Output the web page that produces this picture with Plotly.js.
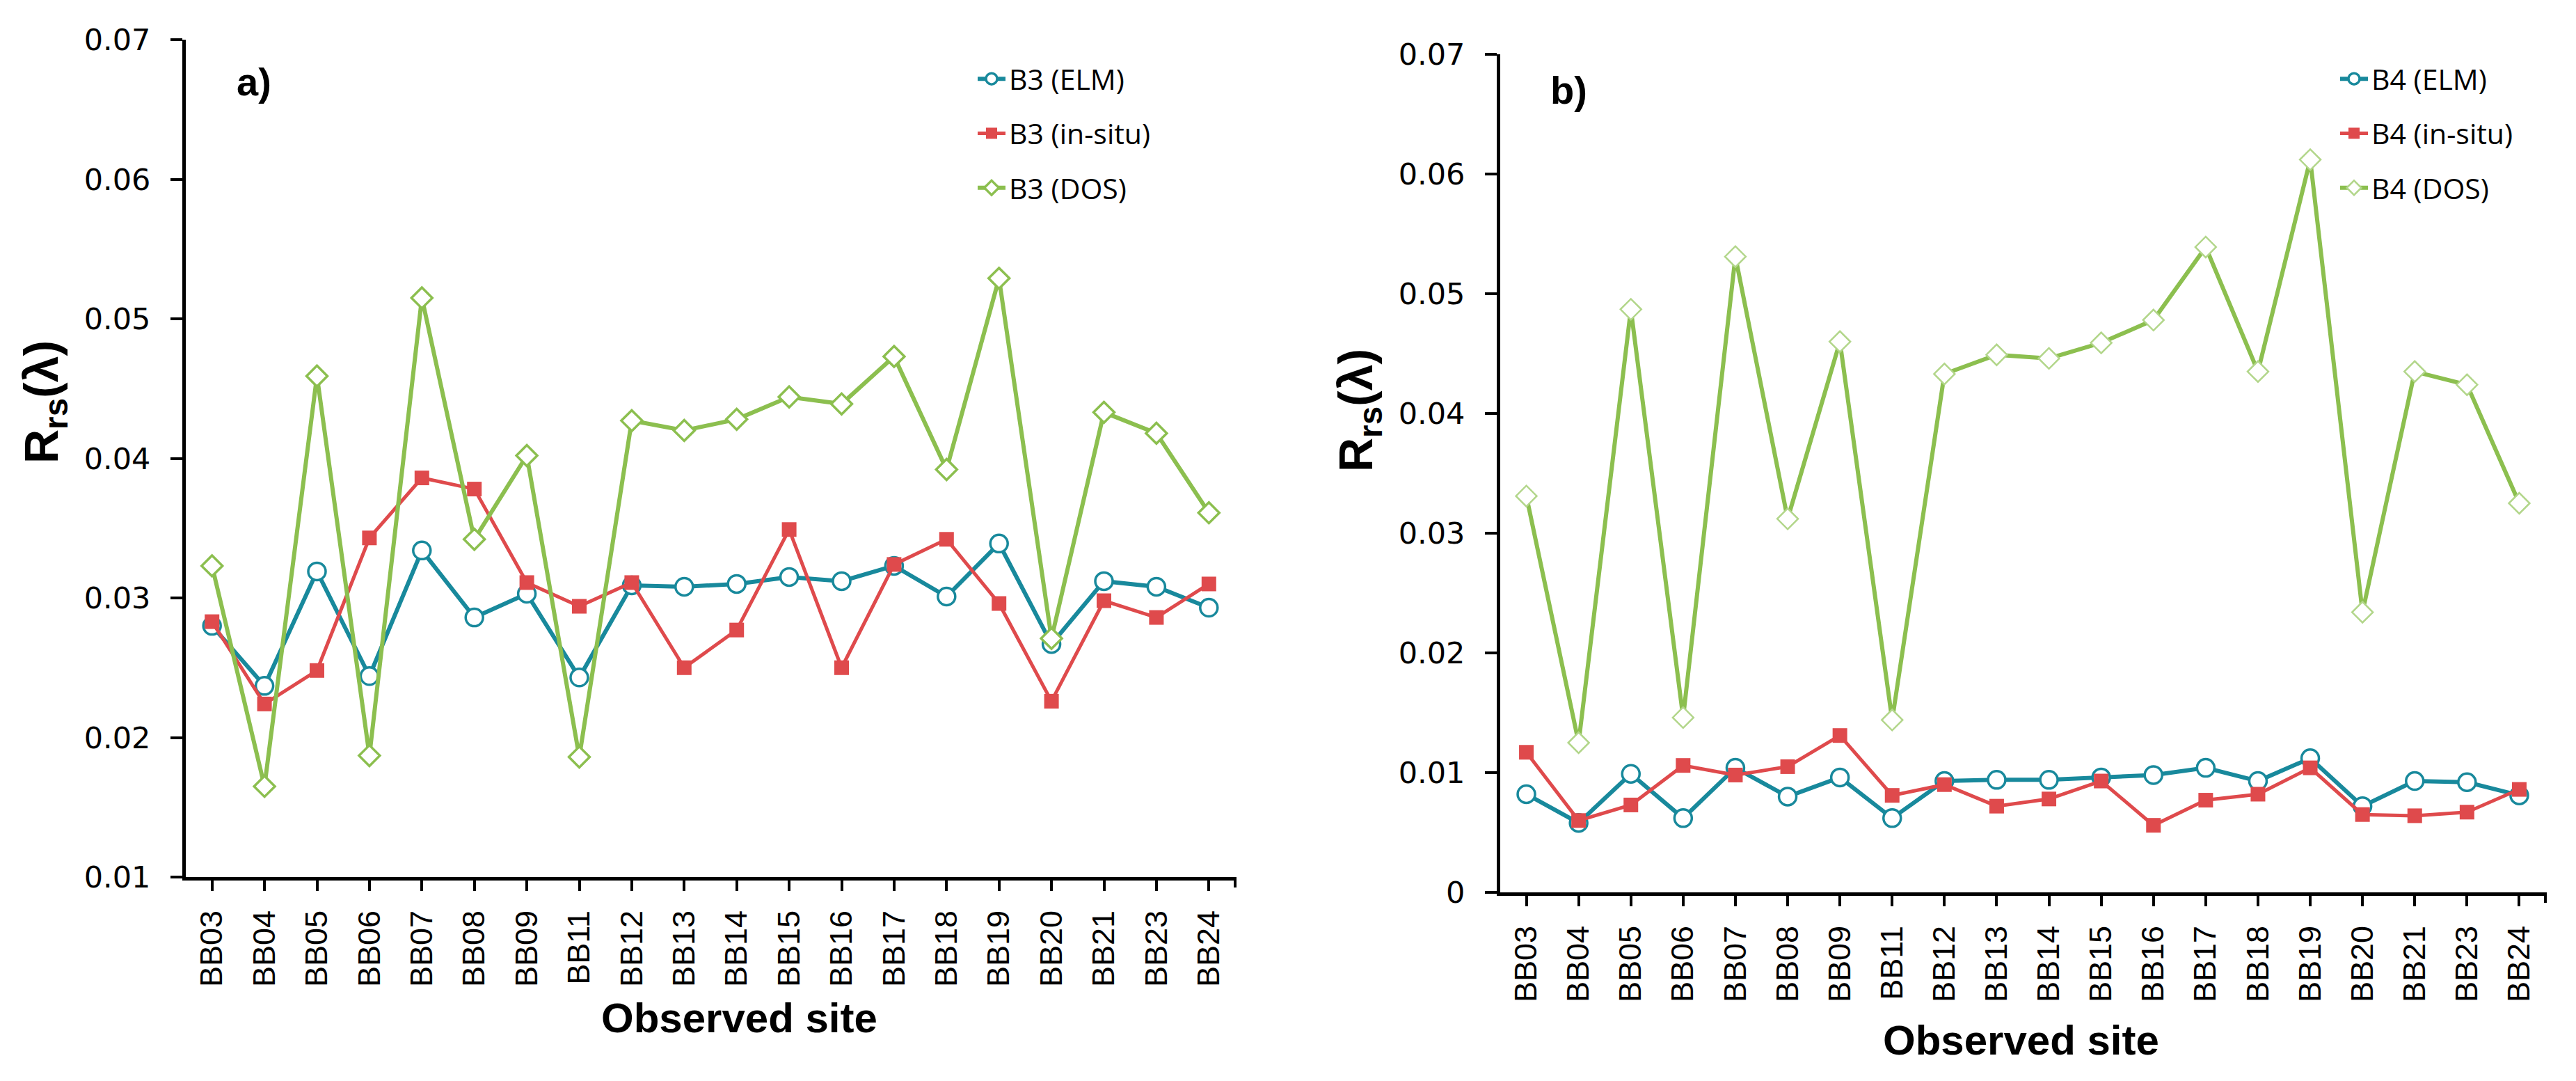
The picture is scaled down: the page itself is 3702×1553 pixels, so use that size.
<!DOCTYPE html>
<html>
<head>
<meta charset="utf-8">
<script src="https://cdn.plot.ly/plotly-3.0.1.min.js"></script>
<style>html,body{margin:0;padding:0;background:#fff;}#chart{width:3702px;height:1553px;}</style>
</head>
<body>
<div id="chart"></div>
<script>
// ---- data ----
const sites = ['BB03','BB04','BB05','BB06','BB07','BB08','BB09','BB11','BB12','BB13','BB14','BB15','BB16','BB17','BB18','BB19','BB20','BB21','BB23','BB24'];

const b3_elm    = [0.0280,0.0237,0.0319,0.0244,0.0334,0.0286,0.0303,0.0243,0.0309,0.0308,0.0310,0.0315,0.0312,0.0323,0.0301,0.0339,0.0267,0.0312,0.0308,0.0293];
const b3_insitu = [0.0283,0.0224,0.0248,0.0343,0.0386,0.0378,0.0311,0.0294,0.0311,0.0250,0.0277,0.0349,0.0250,0.0324,0.0342,0.0296,0.0226,0.0298,0.0286,0.0310];
const b3_dos    = [0.0323,0.0165,0.0459,0.0187,0.0515,0.0342,0.0402,0.0186,0.0427,0.0420,0.0428,0.0444,0.0439,0.0473,0.0392,0.0529,0.0271,0.0433,0.0418,0.0361];

const b4_elm    = [0.0082,0.0058,0.0099,0.0062,0.0104,0.0080,0.0096,0.0062,0.0093,0.0094,0.0094,0.0096,0.0098,0.0104,0.0093,0.0112,0.0072,0.0093,0.0092,0.0081];
const b4_insitu = [0.0117,0.0060,0.0073,0.0106,0.0098,0.0105,0.0131,0.0081,0.0090,0.0072,0.0078,0.0093,0.0056,0.0077,0.0082,0.0104,0.0065,0.0064,0.0067,0.0086];
const b4_dos    = [0.0331,0.0125,0.0487,0.0146,0.0531,0.0312,0.0460,0.0144,0.0433,0.0449,0.0446,0.0459,0.0478,0.0539,0.0435,0.0612,0.0234,0.0435,0.0424,0.0325];

const namesA = ['B3 (ELM)','B3 (in-situ)','B3 (DOS)'];
const namesB = ['B4 (ELM)','B4 (in-situ)','B4 (DOS)'];

// ---- styles ----
const W = 3702, H = 1553;
const TEAL = '#18899C', RED = '#DF4A4C', GREEN = '#8CBF4F', GREEN_LIGHT = '#B2D68A';

function elm(y, name, xa, ya, lg){
  return {x: sites, y: y, name: name, xaxis: xa, yaxis: ya, legend: lg, legendgroup: name,
    type: 'scatter', mode: 'lines+markers',
    line: {color: TEAL, width: 6},
    marker: {symbol: 'circle', size: 25, color: '#ffffff', line: {color: TEAL, width: 3.5}}};
}
function insitu(y, name, xa, ya, lg){
  return {x: sites, y: y, name: name, xaxis: xa, yaxis: ya, legend: lg, legendgroup: name,
    type: 'scatter', mode: 'lines+markers',
    line: {color: RED, width: 5},
    marker: {symbol: 'square', size: 21, color: RED, line: {width: 0}}};
}
function dos(y, name, xa, ya, lg, mcol, mw){
  return {x: sites, y: y, name: name, xaxis: xa, yaxis: ya, legend: lg, legendgroup: name,
    type: 'scatter', mode: 'lines+markers',
    line: {color: GREEN, width: 6},
    marker: {symbol: 'diamond', size: 23, color: '#ffffff', line: {color: mcol, width: mw}}};
}

const traces = [
  elm(b3_elm, namesA[0], 'x', 'y', 'legend'),
  insitu(b3_insitu, namesA[1], 'x', 'y', 'legend'),
  dos(b3_dos, namesA[2], 'x', 'y', 'legend', GREEN, 3.5),
  elm(b4_elm, namesB[0], 'x2', 'y2', 'legend2'),
  insitu(b4_insitu, namesB[1], 'x2', 'y2', 'legend2'),
  dos(b4_dos, namesB[2], 'x2', 'y2', 'legend2', GREEN_LIGHT, 2.5)
];

const xTickFont = {family: 'Liberation Sans, Arial, sans-serif', size: 45, color: '#000'};
const yTickFont = {family: 'DejaVu Sans, Verdana, sans-serif', size: 43, color: '#000'};

function xaxis(domain, anchor){
  return {domain: domain, anchor: anchor, type: 'category', range: [-0.5, 19.5],
    showline: true, linecolor: '#000', linewidth: 5, showgrid: false, zeroline: false,
    ticks: 'outside', ticklen: 15, tickwidth: 4, tickcolor: '#000', ticklabelstandoff: 10,
    tickangle: -90, tickfont: xTickFont, fixedrange: true};
}
function yaxis(domain, anchor, range){
  return {domain: domain, anchor: anchor, range: range, dtick: 0.01, tick0: 0,
    showline: true, linecolor: '#000', linewidth: 5, showgrid: false, zeroline: false,
    ticks: 'outside', ticklen: 17, tickwidth: 4, tickcolor: '#000', ticklabelstandoff: 20,
    tickfont: yTickFont, fixedrange: true};
}

const legendFont = {family: 'Open Sans, Liberation Sans, sans-serif', size: 41, color: '#000'};
function legend(xpx, ypx){
  return {x: xpx / W, y: 1 - ypx / H, xanchor: 'left', yanchor: 'top',
    font: legendFont, bgcolor: 'rgba(0,0,0,0)', borderwidth: 0,
    traceorder: 'grouped', tracegroupgap: 22, itemwidth: 40};
}

const ytitleText = '<b>R<sub>rs</sub>(λ)</b>';
const titleFont = {family: 'Liberation Sans, Arial, sans-serif', size: 60, color: '#000'};
const ytitleFont = {family: 'Liberation Sans, Arial, sans-serif', size: 68, color: '#000'};
const panelFont = {family: 'Liberation Sans, Arial, sans-serif', size: 56, color: '#000'};

const layout = {
  width: W, height: H, margin: {l: 0, r: 0, t: 0, b: 0},
  paper_bgcolor: '#fff', plot_bgcolor: 'rgba(0,0,0,0)',
  xaxis: xaxis([267 / W, 1775 / W], 'y'),
  yaxis: yaxis([1 - 1260 / H, 1 - 57 / H], 'x', [0.01, 0.07]),
  xaxis2: xaxis([2156 / W, 3658 / W], 'y2'),
  yaxis2: yaxis([1 - 1282 / H, 1 - 78 / H], 'x2', [0, 0.07]),
  legend: legend(1400, 80),
  legend2: legend(3358, 80),
  annotations: [
    {text: '<b>Observed site</b>', xref: 'paper', yref: 'paper', x: 1062 / W, y: 1 - 1462 / H,
      xanchor: 'center', yanchor: 'middle', showarrow: false, font: titleFont},
    {text: '<b>Observed site</b>', xref: 'paper', yref: 'paper', x: 2904 / W, y: 1 - 1494 / H,
      xanchor: 'center', yanchor: 'middle', showarrow: false, font: titleFont},
    {text: ytitleText, xref: 'paper', yref: 'paper', x: 64 / W, y: 1 - 578 / H,
      xanchor: 'center', yanchor: 'middle', textangle: -90, showarrow: false, font: ytitleFont},
    {text: ytitleText, xref: 'paper', yref: 'paper', x: 1953 / W, y: 1 - 590 / H,
      xanchor: 'center', yanchor: 'middle', textangle: -90, showarrow: false, font: ytitleFont},
    {text: '<b>a)</b>', xref: 'paper', yref: 'paper', x: 338 / W, y: 1 - 118 / H,
      xanchor: 'left', yanchor: 'middle', showarrow: false, font: panelFont},
    {text: '<b>b)</b>', xref: 'paper', yref: 'paper', x: 2226 / W, y: 1 - 129 / H,
      xanchor: 'left', yanchor: 'middle', showarrow: false, font: panelFont}
  ],
  shapes: [
    {type: 'line', xref: 'x domain', yref: 'y domain', x0: 1, x1: 1, ysizemode: 'pixel', yanchor: 0, y0: 0, y1: -15, line: {color: '#000', width: 4}},
    {type: 'line', xref: 'x2 domain', yref: 'y2 domain', x0: 1, x1: 1, ysizemode: 'pixel', yanchor: 0, y0: 0, y1: -15, line: {color: '#000', width: 4}}
  ]
};

Plotly.newPlot('chart', traces, layout, {staticPlot: true, displayModeBar: false});
</script>
</body>
</html>
